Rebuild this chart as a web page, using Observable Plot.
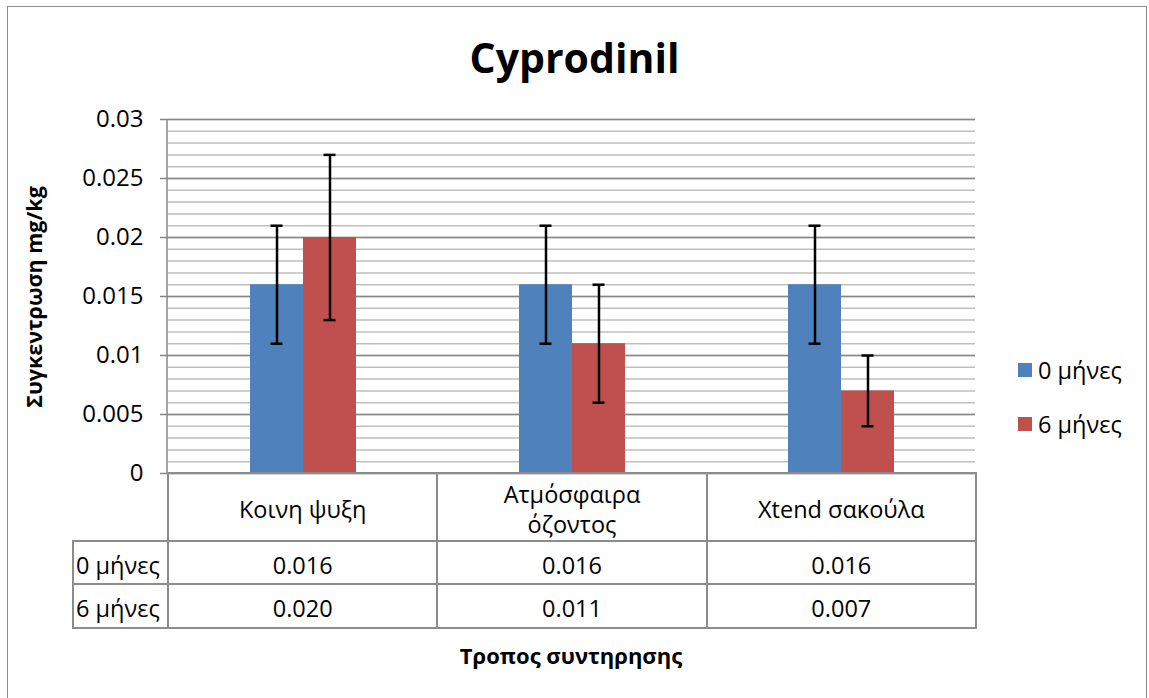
<!DOCTYPE html>
<html>
<head>
<meta charset="utf-8">
<script src="https://cdn.jsdelivr.net/npm/d3@7"></script>
<script src="https://cdn.jsdelivr.net/npm/@observablehq/plot@0.6"></script>
<style>
  html, body { margin: 0; padding: 0; background: #fff; }
  #wrap { position: relative; width: 1149px; height: 698px; overflow: hidden; font-family: "Open Sans", sans-serif; color: #000; }
  #frame { position: absolute; left: 7px; top: 6px; width: 1140px; height: 720px; border: 1.5px solid #8c8c8c; box-sizing: border-box; }
  #title { position: absolute; left: 0; width: 1149px; top: 30px; text-align: center; font-weight: 700; font-size: 41px; line-height: 54px; }
  #chart { position: absolute; left: 0; top: 0; }
  #ylabel { position: absolute; left: 33px; top: 297px; transform: translate(-50%, -50%) rotate(-90deg); font-weight: 700; font-size: 21.5px; white-space: nowrap; }
  #xlabel { position: absolute; left: 167px; width: 808px; top: 640px; text-align: center; font-weight: 700; font-size: 22px; line-height: 30px; }
  #legend { position: absolute; left: 1018px; top: 355px; font-size: 23.5px; }
  #legend .item { display: flex; align-items: center; height: 30px; margin-bottom: 24px; }
  #legend .sw { width: 14px; height: 14px; margin-right: 6px; }
  #tbl { position: absolute; left: 72px; top: 472px; border-collapse: collapse; table-layout: fixed; font-size: 23.5px; }
  #tbl td { border: 2px solid #8c8c8c; text-align: center; padding: 4px 0 0 0; line-height: 30px; white-space: nowrap; }
  #tbl td.lab { text-align: left; padding-left: 2px; }
  #tbl td.corner { border-top: hidden; border-left: hidden; }
  #tbl tr.head td { height: 62px; white-space: pre-line; }
  #tbl tr.r1 td { height: 37px; }
  #tbl tr.r2 td { height: 38px; }
</style>
</head>
<body>
<div id="wrap">
  <div id="frame"></div>
  <div id="title"></div>
  <div id="chart"></div>
  <div id="ylabel"></div>
  <div id="xlabel"></div>
  <div id="legend"></div>
  <table id="tbl"></table>
</div>
<script>
// ---- data ----
const titleText = "Cyprodinil";
const yTitle = "Συγκεντρωση mg/kg";
const xTitle = "Τροπος συντηρησης";
const categories = ["Κοινη ψυξη", "Ατμόσφαιρα όζοντος", "Xtend σακούλα"];
const categoryLabels = ["Κοινη ψυξη", "Ατμόσφαιρα\nόζοντος", "Xtend σακούλα"];
const series = ["0 μήνες", "6 μήνες"];
const values0 = [0.016, 0.016, 0.016];
const values6 = [0.020, 0.011, 0.007];
const errors0 = [0.005, 0.005, 0.005];
const errors6 = [0.007, 0.005, 0.003];
const yTicks = [0, 0.005, 0.01, 0.015, 0.02, 0.025, 0.03];
const yTickLabels = ["0", "0.005", "0.01", "0.015", "0.02", "0.025", "0.03"];
const colors = ["#4F81BD", "#C0504D"];

// ---- build table ----
const seriesValues = [values0, values6];
const seriesErrors = [errors0, errors6];
const data = [];
categories.forEach((c, i) => {
  series.forEach((s, j) => {
    const v = seriesValues[j][i], e = seriesErrors[j][i];
    data.push({cat: c, series: s, value: v, lo: v - e, hi: v + e});
  });
});
const minorTicks = d3.ticks(0, 0.03, 30);

const chart = Plot.plot({
  width: 1149,
  height: 480,
  marginLeft: 167,
  marginRight: 174,
  marginTop: 119,
  marginBottom: 7,
  style: {fontFamily: "Open Sans, sans-serif", fontSize: "24px", color: "#000", background: "transparent", overflow: "visible"},
  fx: {domain: categories, paddingInner: 0, paddingOuter: 0, axis: null, label: null},
  x: {domain: series, paddingInner: 0, paddingOuter: 1.53, axis: null, label: null},
  y: {domain: [0, 0.03], axis: null},
  color: {domain: series, range: colors},
  marks: [
    Plot.ruleY(minorTicks, {stroke: "#bfbfbf", strokeWidth: 1.5}),
    Plot.ruleY(yTicks, {stroke: "#868686", strokeWidth: 1.5}),
    Plot.axisY(yTicks, {
      tickSize: 8, tickPadding: 17, stroke: "#868686", strokeWidth: 1.5, fill: "#000",
      fontSize: 24, label: null,
      tickFormat: (d) => yTickLabels[yTicks.indexOf(d)]
    }),
    Plot.barY(data, {fx: "cat", x: "series", y: "value", fill: "series"}),
    Plot.ruleX(data, {fx: "cat", x: "series", y1: "lo", y2: "hi", stroke: "#000", strokeWidth: 2.5}),
    Plot.tickY(data, {fx: "cat", x: "series", y: "lo", stroke: "#000", strokeWidth: 2.5, insetLeft: 20.5, insetRight: 20.5}),
    Plot.tickY(data, {fx: "cat", x: "series", y: "hi", stroke: "#000", strokeWidth: 2.5, insetLeft: 20.5, insetRight: 20.5})
  ]
});
// vertical axis line (plot area left edge)
const ys = chart.scale("y");
d3.select(chart).append("line")
  .attr("x1", 167).attr("x2", 167)
  .attr("y1", ys.apply(0.03)).attr("y2", ys.apply(0))
  .attr("stroke", "#868686").attr("stroke-width", 1.5);
document.getElementById("chart").appendChild(chart);

document.getElementById("title").textContent = titleText;
document.getElementById("ylabel").textContent = yTitle;
document.getElementById("xlabel").textContent = xTitle;

// legend
const leg = d3.select("#legend");
series.forEach((s, j) => {
  const it = leg.append("div").attr("class", "item");
  it.append("div").attr("class", "sw").style("background", colors[j]);
  it.append("span").text(s);
});

// data table
const fmt = d3.format(".3f");
const colW = (975 - 167) / 3;
const tbl = d3.select("#tbl").style("width", (975 - 72) + "px");
const cg = tbl.append("colgroup");
cg.append("col").style("width", "95px");
categories.forEach(() => cg.append("col").style("width", colW + "px"));
const head = tbl.append("tr").attr("class", "head");
head.append("td").attr("class", "corner");
categoryLabels.forEach(c => head.append("td").text(c));
series.forEach((s, j) => {
  const tr = tbl.append("tr").attr("class", "r" + (j + 1));
  tr.append("td").attr("class", "lab").text(s);
  seriesValues[j].forEach(v => tr.append("td").text(fmt(v)));
});
</script>
</body>
</html>
